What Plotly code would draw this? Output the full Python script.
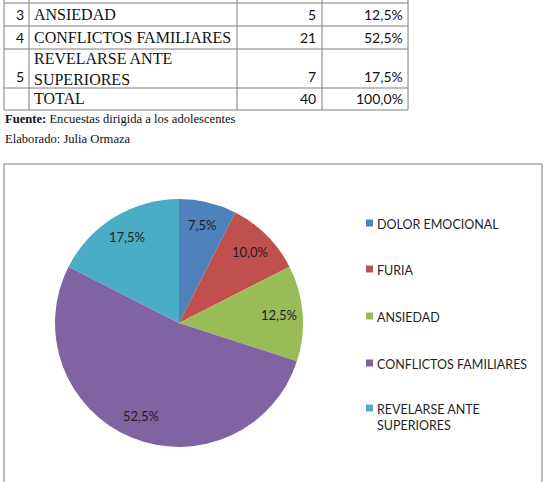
import math
import plotly.graph_objects as go

# ---- data ----
categories = ["DOLOR EMOCIONAL", "FURIA", "ANSIEDAD", "CONFLICTOS FAMILIARES", "REVELARSE ANTE SUPERIORES"]
legend_labels = ["DOLOR EMOCIONAL", "FURIA", "ANSIEDAD", "CONFLICTOS FAMILIARES", "REVELARSE ANTE<br>SUPERIORES"]
frequencies = [3, 4, 5, 21, 7]
colors = ["#4F81BD", "#C0504D", "#9BBB59", "#8064A2", "#4BACC6"]

# visible table rows (top of table is cut off in the reference)
table_nums = ["3", "4", "5", ""]
table_names = ["ANSIEDAD", "CONFLICTOS FAMILIARES", "REVELARSE ANTE<br>SUPERIORES", "TOTAL"]
table_counts = ["5", "21", "7", "40"]
table_pcts = ["12,5%", "52,5%", "17,5%", "100,0%"]
source_text = "<b>Fuente:</b> Encuestas dirigida a los adolescentes"
author_text = "Elaborado: Julia Ormaza"

W, H = 548, 482

def px(x):
    return x / W

def py(y):
    return 1 - y / H

fig = go.Figure()

# pie
cx, cy, r = 179, 323, 124
fig.add_trace(go.Pie(
    labels=categories,
    values=frequencies,
    marker=dict(colors=colors, line=dict(width=0)),
    sort=False,
    direction="clockwise",
    rotation=0,
    textinfo="none",
    showlegend=False,
    hoverinfo="label+value+percent",
    domain=dict(x=[px(cx - r), px(cx + r)], y=[py(cy + r), py(cy - r)]),
))

shapes = []
annotations = []

# data labels placed like Excel (inside, towards the outer edge)
total = sum(frequencies)
cum = 0
for v in frequencies:
    frac_mid = (cum + v / 2) / total
    cum += v
    ang = 2 * math.pi * frac_mid
    lx = cx + 0.81 * r * math.sin(ang)
    ly = cy - 0.81 * r * math.cos(ang)
    pct = f"{100 * v / total:.1f}%".replace(".", ",")
    annotations.append(dict(x=px(lx), y=py(ly), xref="paper", yref="paper", text=pct, showarrow=False,
                            xanchor="center", yanchor="middle",
                            font=dict(family="Lato", size=13, color="#1F1F1F")))

line_col = "#7F7F7F"

# ---- table ----
row_lines = [3, 26, 49, 88, 110]
col_lines = [4, 29, 237, 322, 408]
for y in row_lines:
    shapes.append(dict(type="line", xref="paper", yref="paper", x0=px(col_lines[0]), x1=px(col_lines[-1]),
                       y0=py(y), y1=py(y), line=dict(color=line_col, width=1)))
for x in col_lines:
    shapes.append(dict(type="line", xref="paper", yref="paper", x0=px(x), x1=px(x),
                       y0=py(0), y1=py(row_lines[-1]), line=dict(color=line_col, width=1)))

serif = dict(family="Liberation Serif", size=16, color="#111111")
sans = dict(family="Lato", size=14, color="#111111")
for i in range(len(table_names)):
    top, bot = row_lines[i], row_lines[i + 1]
    yb = py(bot - 1)
    multiline = "<br>" in table_names[i]
    annotations.append(dict(x=px(col_lines[1] - 3), y=yb, xref="paper", yref="paper", text=table_nums[i],
                            showarrow=False, xanchor="right", yanchor="bottom", font=sans))
    if multiline:
        annotations.append(dict(x=px(col_lines[1] + 3), y=py((top + bot) / 2 + 1), xref="paper", yref="paper",
                                text=table_names[i], showarrow=False, xanchor="left", yanchor="middle",
                                align="left", font=serif))
    else:
        annotations.append(dict(x=px(col_lines[1] + 3), y=yb, xref="paper", yref="paper", text=table_names[i],
                                showarrow=False, xanchor="left", yanchor="bottom", align="left", font=serif))
    annotations.append(dict(x=px(col_lines[3] - 4), y=yb, xref="paper", yref="paper", text=table_counts[i],
                            showarrow=False, xanchor="right", yanchor="bottom", font=sans))
    annotations.append(dict(x=px(col_lines[4] - 3), y=yb, xref="paper", yref="paper", text=table_pcts[i],
                            showarrow=False, xanchor="right", yanchor="bottom", font=sans))

small_serif = dict(family="Liberation Serif", size=12.6, color="#111111")
annotations.append(dict(x=px(3), y=py(119), xref="paper", yref="paper", text=source_text, showarrow=False,
                        xanchor="left", yanchor="middle", font=small_serif))
annotations.append(dict(x=px(3), y=py(139), xref="paper", yref="paper", text=author_text, showarrow=False,
                        xanchor="left", yanchor="middle", font=small_serif))

# ---- chart frame ----
shapes.append(dict(type="rect", xref="paper", yref="paper", x0=px(4), x1=px(542), y0=py(490), y1=py(164),
                   line=dict(color="#A6A6A6", width=1.5), fillcolor="rgba(0,0,0,0)"))

# ---- legend (manual, to reproduce Excel spacing) ----
leg_y = [223, 269, 316, 363, 408]
for i, lab in enumerate(legend_labels):
    y = leg_y[i]
    shapes.append(dict(type="rect", xref="paper", yref="paper", x0=px(366), x1=px(373),
                       y0=py(y + 3.5), y1=py(y - 3.5), line=dict(width=0), fillcolor=colors[i]))
    annotations.append(dict(x=px(375), y=py(y - 8), xref="paper", yref="paper", text=lab, showarrow=False,
                            xanchor="left", yanchor="top", align="left",
                            font=dict(family="Lato", size=12.5, color="#1F1F1F")))

fig.update_layout(
    width=W, height=H,
    margin=dict(l=0, r=0, t=0, b=0),
    paper_bgcolor="white",
    plot_bgcolor="white",
    shapes=shapes,
    annotations=annotations,
)

fig.write_html("out.html")
